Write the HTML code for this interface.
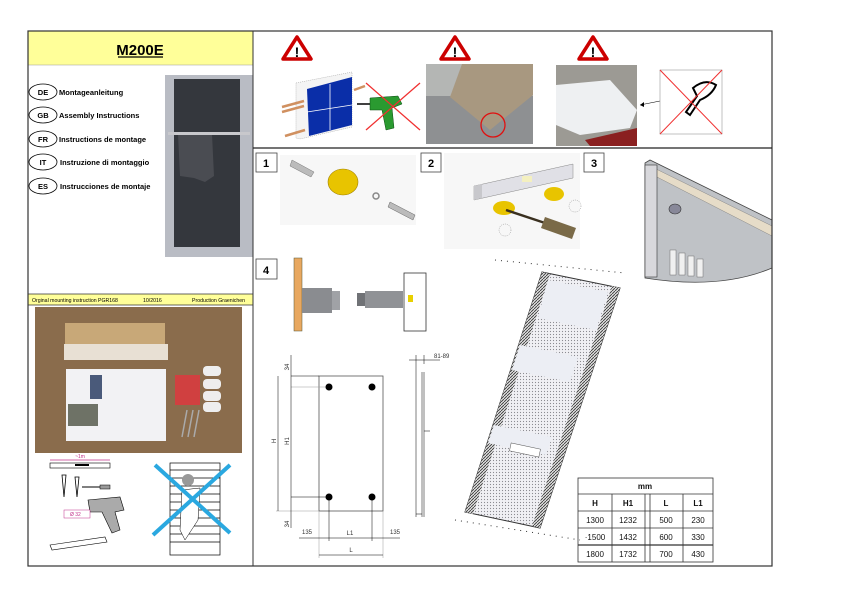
<!DOCTYPE html>
<html><head><meta charset="utf-8"><style>
html,body{margin:0;padding:0;background:#fff;}
body{width:842px;height:595px;position:relative;overflow:hidden;font-family:"Liberation Sans",sans-serif;}
svg{position:absolute;left:0;top:0;}
text{font-family:"Liberation Sans",sans-serif;}
</style></head><body>
<svg width="842" height="595" viewBox="0 0 842 595" xmlns="http://www.w3.org/2000/svg">
<defs>
<pattern id="dots" width="3" height="3" patternUnits="userSpaceOnUse"><rect width="3" height="3" fill="#f0f0f4"/><circle cx="1.5" cy="1.5" r="0.6" fill="#8a8a90"/></pattern>
<pattern id="hatch" width="3" height="3" patternUnits="userSpaceOnUse"><rect width="3" height="3" fill="#ddd"/><path d="M0 3L3 0" stroke="#333" stroke-width="0.8"/></pattern>
</defs>
<rect x="28" y="31" width="225" height="34" fill="#ffff99"/>
<line x1="28" y1="65" x2="253" y2="65" stroke="#999" stroke-width="0.5"/>
<text x="140" y="55" font-size="15" font-weight="bold" text-anchor="middle">M200E</text>
<line x1="118" y1="57" x2="163" y2="57" stroke="#000" stroke-width="1.2"/>
<g font-size="7.5" font-weight="bold">
<ellipse cx="43" cy="92" rx="14" ry="8" fill="none" stroke="#000" stroke-width="0.8"/><text x="43" y="95" text-anchor="middle">DE</text><text x="59" y="95">Montageanleitung</text>
<ellipse cx="43" cy="115" rx="14" ry="8" fill="none" stroke="#000" stroke-width="0.8"/><text x="43" y="118" text-anchor="middle">GB</text><text x="59" y="118">Assembly Instructions</text>
<ellipse cx="43" cy="139" rx="14" ry="8" fill="none" stroke="#000" stroke-width="0.8"/><text x="43" y="142" text-anchor="middle">FR</text><text x="59" y="142">Instructions de montage</text>
<ellipse cx="43" cy="162" rx="14" ry="8" fill="none" stroke="#000" stroke-width="0.8"/><text x="43" y="165" text-anchor="middle">IT</text><text x="60" y="165">Instruzione di montaggio</text>
<ellipse cx="43" cy="186" rx="14" ry="8" fill="none" stroke="#000" stroke-width="0.8"/><text x="43" y="189" text-anchor="middle">ES</text><text x="60" y="189">Instrucciones de montaje</text>
</g>
<rect x="165" y="75" width="88" height="182" fill="#b9bcc4"/>
<rect x="174" y="79" width="66" height="168" fill="#34373d"/>
<path d="M178 134 L212 134 L214 176 L205 182 L194 178 L180 176 Z" fill="#4a4c52"/>
<rect x="168" y="132" width="82" height="3" fill="#c8c8cc"/>
<rect x="28" y="294" width="225" height="11" fill="#ffff99"/>
<line x1="28" y1="294" x2="253" y2="294" stroke="#333" stroke-width="0.8"/>
<line x1="28" y1="305" x2="253" y2="305" stroke="#333" stroke-width="0.8"/>
<text x="32" y="302" font-size="5.2">Orginal mounting instruction PGR168</text>
<text x="143" y="302" font-size="5.2">10/2016</text>
<text x="192" y="302" font-size="5.2">Production Graenichen</text>
<rect x="35" y="307" width="207" height="146" fill="#8a6c4c"/>
<rect x="65" y="323" width="100" height="33" fill="#c8a878"/>
<rect x="64" y="344" width="104" height="16" fill="#e8e0d4"/>
<rect x="66" y="369" width="100" height="72" fill="#f2f2f4"/>
<rect x="68" y="404" width="30" height="22" fill="#6e7266"/>
<rect x="90" y="375" width="12" height="24" fill="#4a5a7a"/>
<rect x="175" y="375" width="25" height="30" fill="#d04040"/>
<g fill="#eee"><rect x="203" y="366" width="18" height="10" rx="4"/><rect x="203" y="379" width="18" height="10" rx="4"/><rect x="203" y="391" width="18" height="10" rx="4"/><rect x="203" y="402" width="18" height="10" rx="4"/></g>
<g stroke="#aaa" stroke-width="1.5"><line x1="187" y1="410" x2="182" y2="437"/><line x1="193" y1="410" x2="188" y2="437"/><line x1="199" y1="410" x2="194" y2="437"/></g>
<line x1="50" y1="460" x2="110" y2="460" stroke="#c0308a" stroke-width="0.8"/>
<text x="80" y="458" font-size="5" text-anchor="middle" fill="#c0308a">~1m</text>
<rect x="50" y="463" width="60" height="5" fill="#fff" stroke="#000" stroke-width="0.6"/>
<rect x="75" y="464" width="14" height="2" fill="#000"/>
<path d="M62 475 l4 0 l-2 22 z M75 477 l4 0 l-2 20 z" fill="#fff" stroke="#000" stroke-width="0.8"/>
<line x1="82" y1="487" x2="108" y2="487" stroke="#000" stroke-width="1"/><rect x="100" y="485" width="10" height="4" fill="#999" stroke="#000" stroke-width="0.5"/>
<path d="M88 500 L120 497 L124 510 L115 512 L120 530 L112 533 L102 512 L90 512 Z" fill="#aaa" stroke="#000" stroke-width="0.6"/>
<rect x="64" y="510" width="26" height="8" fill="#fff" stroke="#c0308a" stroke-width="0.5"/><text x="70" y="516" font-size="5" fill="#c0308a">Ø 32</text>
<path d="M50 545 L105 537 L107 542 L52 550 Z" fill="#fff" stroke="#000" stroke-width="0.6"/>
<rect x="170" y="463" width="50" height="92" fill="#fff" stroke="#000" stroke-width="0.7"/>
<g stroke="#000" stroke-width="0.8"><line x1="170" y1="470" x2="220" y2="470"/><line x1="170" y1="478" x2="220" y2="478"/><line x1="170" y1="486" x2="220" y2="486"/><line x1="170" y1="494" x2="220" y2="494"/><line x1="170" y1="502" x2="220" y2="502"/><line x1="170" y1="510" x2="220" y2="510"/><line x1="170" y1="518" x2="220" y2="518"/><line x1="170" y1="526" x2="220" y2="526"/><line x1="170" y1="534" x2="220" y2="534"/><line x1="170" y1="542" x2="220" y2="542"/></g>
<circle cx="188" cy="480" r="6" fill="#999"/>
<path d="M182 490 L200 488 L198 520 L185 540 L180 530 Z" fill="#fff" stroke="#000" stroke-width="0.5"/>
<g stroke="#2aa8e0" stroke-width="4"><line x1="155" y1="465" x2="230" y2="533"/><line x1="230" y1="465" x2="153" y2="535"/></g>
<g fill="#fff" stroke="#c00" stroke-width="3.5" stroke-linejoin="round">
<polygon points="297,37 311,59 283,59"/><polygon points="455,37 469,59 441,59"/><polygon points="593,37 607,59 579,59"/>
</g>
<g font-size="14" font-weight="bold" text-anchor="middle"><text x="297" y="57">!</text><text x="455" y="57">!</text><text x="593" y="57">!</text></g>
<polygon points="296,83 352,72 352,127 300,139 296,138" fill="#f4f4f4" stroke="#999" stroke-width="0.5" stroke-dasharray="1,1"/>
<polygon points="307,89 352,77 352,125 309,136" fill="#0a2ea8"/>
<line x1="330" y1="84" x2="330" y2="130" stroke="#fff" stroke-width="0.8"/>
<line x1="307" y1="112" x2="352" y2="105" stroke="#fff" stroke-width="0.8"/>
<g stroke="#d09060" stroke-width="2.5"><line x1="282" y1="107" x2="304" y2="101"/><line x1="282" y1="112" x2="304" y2="106"/><line x1="354" y1="90" x2="365" y2="86"/><line x1="285" y1="136" x2="305" y2="130"/></g>
<line x1="357" y1="104" x2="370" y2="104" stroke="#000" stroke-width="1.5"/>
<path d="M370 98 L398 96 L402 104 L392 108 L394 128 L386 130 L382 110 L370 110 Z" fill="#2a9a30" stroke="#0a4a10" stroke-width="0.5"/>
<g stroke="#f03030" stroke-width="1.3"><line x1="366" y1="83" x2="420" y2="130"/><line x1="420" y1="83" x2="366" y2="130"/></g>
<rect x="426" y="64" width="107" height="80" fill="#8e9092"/>
<rect x="426" y="64" width="107" height="32" fill="#b4b6b4"/>
<polygon points="462,64 533,64 533,95 490,130 450,97" fill="#a89880"/>
<circle cx="493" cy="125" r="12" fill="none" stroke="#e01010" stroke-width="1.3"/>
<rect x="556" y="65" width="81" height="81" fill="#9c9a94"/>
<polygon points="556,85 610,80 637,110 630,128 580,135 556,125" fill="#eef0f2"/>
<path d="M585 140 L637 128 L637 146 L590 146 Z" fill="#8a2020"/>
<line x1="660" y1="101" x2="640" y2="105" stroke="#000" stroke-width="0.6"/>
<polygon points="640,105 644,102 644,107" fill="#000"/>
<rect x="660" y="70" width="62" height="64" fill="#fff" stroke="#999" stroke-width="0.6"/>
<path d="M693 88 Q705 78 716 85 Q712 95 700 100 L690 115 L686 112 L697 96 Z" fill="none" stroke="#000" stroke-width="2"/>
<g stroke="#f03030" stroke-width="1"><line x1="660" y1="70" x2="722" y2="134"/><line x1="722" y1="70" x2="660" y2="134"/></g>
<g fill="#fff" stroke="#444" stroke-width="0.8">
<rect x="256" y="153" width="21" height="19"/><rect x="421" y="153" width="20" height="19"/><rect x="584" y="153" width="20" height="19"/><rect x="256" y="259" width="21" height="20"/>
</g>
<g font-size="11" font-weight="bold" text-anchor="middle"><text x="266" y="167">1</text><text x="431" y="167">2</text><text x="594" y="167">3</text><text x="266" y="274">4</text></g>
<rect x="280" y="155" width="136" height="70" fill="#f7f7f7"/>
<polygon points="292,160 314,172 311,177 290,166" fill="#bbb" stroke="#777" stroke-width="0.5"/>
<ellipse cx="343" cy="182" rx="15" ry="13" fill="#e8c400" stroke="#a08000" stroke-width="0.6"/>
<circle cx="376" cy="196" r="3" fill="none" stroke="#888" stroke-width="1.5"/>
<polygon points="390,202 415,215 413,220 388,207" fill="#bbb" stroke="#666" stroke-width="0.5"/>
<rect x="444" y="153" width="136" height="96" fill="#f7f7f7"/>
<polygon points="474,186 573,164 573,178 474,200" fill="#e0e0e6" stroke="#888" stroke-width="0.5"/>
<polygon points="474,186 482,184 482,198 474,200" fill="#c8c8cc"/>
<rect x="522" y="176" width="10" height="6" fill="#f4f0c0"/>
<ellipse cx="504" cy="208" rx="11" ry="7" fill="#e8c400"/>
<ellipse cx="554" cy="194" rx="10" ry="7" fill="#e8c400"/>
<line x1="506" y1="210" x2="545" y2="223" stroke="#3a3020" stroke-width="2.5"/>
<polygon points="545,217 576,228 572,239 541,228" fill="#7a6a48"/>
<circle cx="575" cy="206" r="6" fill="none" stroke="#888" stroke-width="0.5" stroke-dasharray="1,1"/>
<circle cx="505" cy="230" r="6" fill="none" stroke="#888" stroke-width="0.5" stroke-dasharray="1,1"/>
<path d="M645 163 L650 160 L772 220 L772 268 Q720 290 645 278 Z" fill="#bfc2c6" stroke="#444" stroke-width="0.8"/>
<path d="M650 166 L772 226 L772 236 L655 176 Z" fill="#e6dcc8" stroke="#777" stroke-width="0.4"/>
<rect x="645" y="165" width="12" height="112" fill="#d8d8dc" stroke="#333" stroke-width="0.6"/>
<ellipse cx="675" cy="209" rx="6" ry="5" fill="#889" stroke="#333" stroke-width="0.6"/>
<g fill="#f0f0f0" stroke="#555" stroke-width="0.4"><rect x="670" y="250" width="6" height="25"/><rect x="679" y="253" width="6" height="22"/><rect x="688" y="256" width="6" height="20"/><rect x="697" y="259" width="6" height="18"/></g>
<rect x="294" y="258" width="8" height="73" fill="#e8a860" stroke="#553" stroke-width="0.5"/>
<rect x="302" y="288" width="30" height="25" fill="#8a8c90"/>
<rect x="332" y="291" width="8" height="19" fill="#a0a2a6"/>
<rect x="357" y="293" width="8" height="13" fill="#707276"/>
<rect x="365" y="291" width="38" height="17" fill="#909296"/>
<rect x="404" y="273" width="22" height="58" fill="#fff" stroke="#333" stroke-width="0.8"/>
<rect x="408" y="295" width="5" height="7" fill="#e8d000"/>
<g stroke="#000" stroke-width="0.5" fill="none">
<rect x="319" y="376" width="64" height="135" stroke="#555" stroke-width="0.8"/>
<line x1="291" y1="376" x2="319" y2="376"/><line x1="276" y1="511" x2="319" y2="511" stroke="#999"/>
<line x1="291" y1="387" x2="329" y2="387" stroke="#999"/><line x1="291" y1="497" x2="329" y2="497"/>
<line x1="278" y1="376" x2="278" y2="511"/><line x1="291" y1="355" x2="291" y2="528"/>
<line x1="329" y1="497" x2="329" y2="541"/><line x1="372" y1="497" x2="372" y2="541"/>
<line x1="319" y1="511" x2="319" y2="558" stroke="#999"/><line x1="383" y1="511" x2="383" y2="558" stroke="#999"/>
<line x1="299" y1="538" x2="400" y2="538"/><line x1="319" y1="555" x2="383" y2="555"/>
<line x1="416" y1="364" x2="416" y2="517"/><line x1="422" y1="372" x2="422" y2="517"/><line x1="424" y1="372" x2="424" y2="517"/>
<line x1="424" y1="431" x2="430" y2="431"/><line x1="409" y1="360" x2="440" y2="360"/><line x1="416" y1="355" x2="416" y2="364"/><line x1="424" y1="355" x2="424" y2="364"/>
<line x1="416" y1="514" x2="422" y2="514"/>
</g>
<g fill="#000"><circle cx="329" cy="387" r="3.5"/><circle cx="372" cy="387" r="3.5"/><circle cx="329" cy="497" r="3.5"/><circle cx="372" cy="497" r="3.5"/></g>
<g font-size="6" fill="#333">
<text x="289" y="367" transform="rotate(-90 289 367)" text-anchor="middle">34</text>
<text x="289" y="524" transform="rotate(-90 289 524)" text-anchor="middle">34</text>
<text x="276" y="441" transform="rotate(-90 276 441)" text-anchor="middle">H</text>
<text x="289" y="441" transform="rotate(-90 289 441)" text-anchor="middle">H1</text>
<text x="307" y="534" text-anchor="middle">135</text><text x="395" y="534" text-anchor="middle">135</text>
<text x="350" y="535" text-anchor="middle">L1</text><text x="351" y="552" text-anchor="middle">L</text>
<text x="434" y="358">81-89</text>
</g>
<polygon points="542,272 620,288 540,528 465,512" fill="url(#dots)" stroke="#333" stroke-width="1"/>
<polygon points="542,272 550,274 473,514 465,512" fill="url(#hatch)"/>
<polygon points="612,286 620,288 540,528 532,526" fill="url(#hatch)"/>
<polygon points="548,280 608,292 596,330 538,318" fill="#eceef4"/>
<polygon points="520,345 578,357 570,382 512,370" fill="#eceef4"/>
<polygon points="494,425 552,437 546,455 488,443" fill="#eceef4"/>
<rect x="510" y="446" width="30" height="8" fill="#fff" stroke="#555" stroke-width="0.5" transform="rotate(12 525 450)"/>
<g stroke="#333" stroke-width="1" stroke-dasharray="1,5"><line x1="495" y1="260" x2="625" y2="273"/><line x1="455" y1="520" x2="580" y2="540"/></g>
<g stroke="#333" stroke-width="0.8" fill="none">
<rect x="578" y="478" width="135" height="84"/>
<line x1="578" y1="494" x2="713" y2="494"/><line x1="578" y1="511" x2="713" y2="511"/><line x1="578" y1="528" x2="713" y2="528"/><line x1="578" y1="545" x2="713" y2="545" stroke-width="1.3"/>
<line x1="612" y1="494" x2="612" y2="562"/><line x1="645" y1="494" x2="645" y2="562"/><line x1="650" y1="494" x2="650" y2="562"/><line x1="683" y1="494" x2="683" y2="562"/>
</g>
<g font-size="8" text-anchor="middle" fill="#111">
<text x="645" y="489" font-weight="bold">mm</text>
<text x="595" y="506" font-weight="bold">H</text><text x="628" y="506" font-weight="bold">H1</text><text x="666" y="506" font-weight="bold">L</text><text x="698" y="506" font-weight="bold">L1</text>
<text x="595" y="523">1300</text><text x="628" y="523">1232</text><text x="666" y="523">500</text><text x="698" y="523">230</text>
<text x="595" y="540">·1500</text><text x="628" y="540">1432</text><text x="666" y="540">600</text><text x="698" y="540">330</text>
<text x="595" y="557">1800</text><text x="628" y="557">1732</text><text x="666" y="557">700</text><text x="698" y="557">430</text>
</g>
<rect x="28" y="31" width="744" height="535" fill="none" stroke="#333" stroke-width="1.2"/>
<line x1="253" y1="31" x2="253" y2="566" stroke="#333" stroke-width="1"/>
<line x1="253" y1="148" x2="772" y2="148" stroke="#222" stroke-width="1.2"/>
</svg>
</body></html>
